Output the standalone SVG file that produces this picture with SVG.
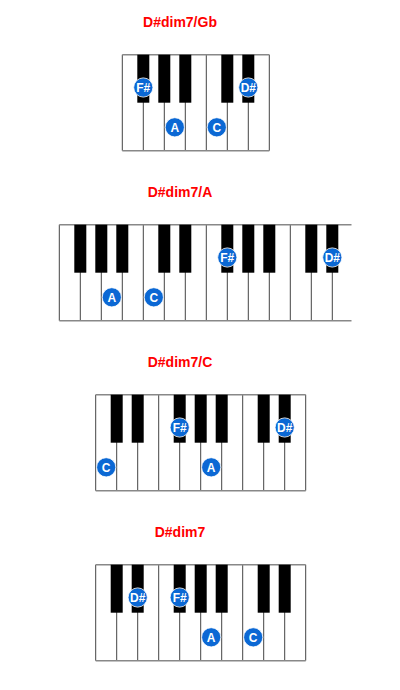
<svg xmlns="http://www.w3.org/2000/svg" width="400" height="690" viewBox="0 0 400 690">
<style>
.title{font-family:"Liberation Sans",Arial,sans-serif;font-weight:bold;font-size:14px;fill:#ff0000;text-anchor:middle}
.wk{fill:#ffffff}
.div{stroke:#444444;stroke-width:1}
.edge{stroke:#888888;stroke-width:1.5}
.bk{fill:#000000}
.dot{fill:#0b68d4;stroke:#ffffff;stroke-width:0.8}
.lbl{font-family:"Liberation Sans",Arial,sans-serif;font-weight:bold;font-size:12px;fill:#ffffff;text-anchor:middle}
</style>
<rect width="400" height="690" fill="#ffffff"/>

<g id="chord1">
<text class="title" x="180" y="27">D#dim7/Gb</text>
<rect class="wk" x="122.3" y="54.7" width="147" height="96"/>
<g class="div">
<line x1="122.3" y1="54.7" x2="122.3" y2="150.7"/>
<line x1="143.3" y1="54.7" x2="143.3" y2="150.7"/>
<line x1="164.3" y1="54.7" x2="164.3" y2="150.7"/>
<line x1="185.3" y1="54.7" x2="185.3" y2="150.7"/>
<line x1="206.3" y1="54.7" x2="206.3" y2="150.7"/>
<line x1="227.3" y1="54.7" x2="227.3" y2="150.7"/>
<line x1="248.3" y1="54.7" x2="248.3" y2="150.7"/>
<line x1="269.3" y1="54.7" x2="269.3" y2="150.7"/>
</g>
<g class="edge">
<line x1="122.3" y1="54.7" x2="269.3" y2="54.7"/>
<line x1="122.3" y1="150.7" x2="269.3" y2="150.7"/>
</g>
<g class="bk">
<rect x="137.3" y="54.7" width="12" height="48"/>
<rect x="158.3" y="54.7" width="12" height="48"/>
<rect x="179.3" y="54.7" width="12" height="48"/>
<rect x="221.3" y="54.7" width="12" height="48"/>
<rect x="242.3" y="54.7" width="12" height="48"/>
</g>
<circle class="dot" cx="143.3" cy="87.5" r="9.6"/><text class="lbl" x="143.3" y="91.8">F#</text>
<circle class="dot" cx="174.8" cy="127.3" r="9.6"/><text class="lbl" x="174.8" y="131.6">A</text>
<circle class="dot" cx="216.8" cy="127.3" r="9.6"/><text class="lbl" x="216.8" y="131.6">C</text>
<circle class="dot" cx="248.3" cy="87.5" r="9.6"/><text class="lbl" x="248.3" y="91.8">D#</text>
</g>

<g id="chord2">
<text class="title" x="180" y="197">D#dim7/A</text>
<rect class="wk" x="59.3" y="224.7" width="292" height="96"/>
<g class="div">
<line x1="59.3" y1="224.7" x2="59.3" y2="320.7"/>
<line x1="80.3" y1="224.7" x2="80.3" y2="320.7"/>
<line x1="101.3" y1="224.7" x2="101.3" y2="320.7"/>
<line x1="122.3" y1="224.7" x2="122.3" y2="320.7"/>
<line x1="143.3" y1="224.7" x2="143.3" y2="320.7"/>
<line x1="164.3" y1="224.7" x2="164.3" y2="320.7"/>
<line x1="185.3" y1="224.7" x2="185.3" y2="320.7"/>
<line x1="206.3" y1="224.7" x2="206.3" y2="320.7"/>
<line x1="227.3" y1="224.7" x2="227.3" y2="320.7"/>
<line x1="248.3" y1="224.7" x2="248.3" y2="320.7"/>
<line x1="269.3" y1="224.7" x2="269.3" y2="320.7"/>
<line x1="290.3" y1="224.7" x2="290.3" y2="320.7"/>
<line x1="311.3" y1="224.7" x2="311.3" y2="320.7"/>
<line x1="332.3" y1="224.7" x2="332.3" y2="320.7"/>
</g>
<g class="edge">
<line x1="59.3" y1="224.7" x2="351.5" y2="224.7"/>
<line x1="59.3" y1="320.7" x2="351.5" y2="320.7"/>
</g>
<g class="bk">
<rect x="74.3" y="224.7" width="12" height="48"/>
<rect x="95.3" y="224.7" width="12" height="48"/>
<rect x="116.3" y="224.7" width="12" height="48"/>
<rect x="158.3" y="224.7" width="12" height="48"/>
<rect x="179.3" y="224.7" width="12" height="48"/>
<rect x="221.3" y="224.7" width="12" height="48"/>
<rect x="242.3" y="224.7" width="12" height="48"/>
<rect x="263.3" y="224.7" width="12" height="48"/>
<rect x="305.3" y="224.7" width="12" height="48"/>
<rect x="326.3" y="224.7" width="12" height="48"/>
</g>
<circle class="dot" cx="111.8" cy="297.3" r="9.6"/><text class="lbl" x="111.8" y="301.6">A</text>
<circle class="dot" cx="153.8" cy="297.3" r="9.6"/><text class="lbl" x="153.8" y="301.6">C</text>
<circle class="dot" cx="227.3" cy="257.5" r="9.6"/><text class="lbl" x="227.3" y="261.8">F#</text>
<circle class="dot" cx="332.3" cy="257.5" r="9.6"/><text class="lbl" x="332.3" y="261.8">D#</text>
</g>

<g id="chord3">
<text class="title" x="180" y="367">D#dim7/C</text>
<rect class="wk" x="95.7" y="394.7" width="210" height="96"/>
<g class="div">
<line x1="95.7" y1="394.7" x2="95.7" y2="490.7"/>
<line x1="116.7" y1="394.7" x2="116.7" y2="490.7"/>
<line x1="137.7" y1="394.7" x2="137.7" y2="490.7"/>
<line x1="158.7" y1="394.7" x2="158.7" y2="490.7"/>
<line x1="179.7" y1="394.7" x2="179.7" y2="490.7"/>
<line x1="200.7" y1="394.7" x2="200.7" y2="490.7"/>
<line x1="221.7" y1="394.7" x2="221.7" y2="490.7"/>
<line x1="242.7" y1="394.7" x2="242.7" y2="490.7"/>
<line x1="263.7" y1="394.7" x2="263.7" y2="490.7"/>
<line x1="284.7" y1="394.7" x2="284.7" y2="490.7"/>
<line x1="305.7" y1="394.7" x2="305.7" y2="490.7"/>
</g>
<g class="edge">
<line x1="95.7" y1="394.7" x2="305.7" y2="394.7"/>
<line x1="95.7" y1="490.7" x2="305.7" y2="490.7"/>
</g>
<g class="bk">
<rect x="110.7" y="394.7" width="12" height="48"/>
<rect x="131.7" y="394.7" width="12" height="48"/>
<rect x="173.7" y="394.7" width="12" height="48"/>
<rect x="194.7" y="394.7" width="12" height="48"/>
<rect x="215.7" y="394.7" width="12" height="48"/>
<rect x="257.7" y="394.7" width="12" height="48"/>
<rect x="278.7" y="394.7" width="12" height="48"/>
</g>
<circle class="dot" cx="106.2" cy="467.3" r="9.6"/><text class="lbl" x="106.2" y="471.6">C</text>
<circle class="dot" cx="179.7" cy="427.5" r="9.6"/><text class="lbl" x="179.7" y="431.8">F#</text>
<circle class="dot" cx="211.2" cy="467.3" r="9.6"/><text class="lbl" x="211.2" y="471.6">A</text>
<circle class="dot" cx="284.7" cy="427.5" r="9.6"/><text class="lbl" x="284.7" y="431.8">D#</text>
</g>

<g id="chord4">
<text class="title" x="180" y="537">D#dim7</text>
<rect class="wk" x="95.7" y="564.7" width="210" height="96"/>
<g class="div">
<line x1="95.7" y1="564.7" x2="95.7" y2="660.7"/>
<line x1="116.7" y1="564.7" x2="116.7" y2="660.7"/>
<line x1="137.7" y1="564.7" x2="137.7" y2="660.7"/>
<line x1="158.7" y1="564.7" x2="158.7" y2="660.7"/>
<line x1="179.7" y1="564.7" x2="179.7" y2="660.7"/>
<line x1="200.7" y1="564.7" x2="200.7" y2="660.7"/>
<line x1="221.7" y1="564.7" x2="221.7" y2="660.7"/>
<line x1="242.7" y1="564.7" x2="242.7" y2="660.7"/>
<line x1="263.7" y1="564.7" x2="263.7" y2="660.7"/>
<line x1="284.7" y1="564.7" x2="284.7" y2="660.7"/>
<line x1="305.7" y1="564.7" x2="305.7" y2="660.7"/>
</g>
<g class="edge">
<line x1="95.7" y1="564.7" x2="305.7" y2="564.7"/>
<line x1="95.7" y1="660.7" x2="305.7" y2="660.7"/>
</g>
<g class="bk">
<rect x="110.7" y="564.7" width="12" height="48"/>
<rect x="131.7" y="564.7" width="12" height="48"/>
<rect x="173.7" y="564.7" width="12" height="48"/>
<rect x="194.7" y="564.7" width="12" height="48"/>
<rect x="215.7" y="564.7" width="12" height="48"/>
<rect x="257.7" y="564.7" width="12" height="48"/>
<rect x="278.7" y="564.7" width="12" height="48"/>
</g>
<circle class="dot" cx="137.7" cy="597.5" r="9.6"/><text class="lbl" x="137.7" y="601.8">D#</text>
<circle class="dot" cx="179.7" cy="597.5" r="9.6"/><text class="lbl" x="179.7" y="601.8">F#</text>
<circle class="dot" cx="211.2" cy="637.3" r="9.6"/><text class="lbl" x="211.2" y="641.6">A</text>
<circle class="dot" cx="253.2" cy="637.3" r="9.6"/><text class="lbl" x="253.2" y="641.6">C</text>
</g>

<g id="connectors"/>
</svg>
